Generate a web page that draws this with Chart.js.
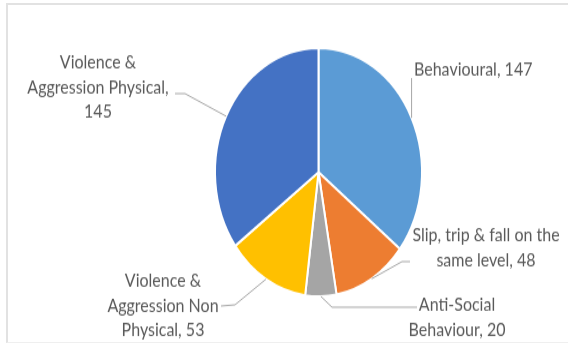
<!DOCTYPE html>
<html>
<head>
<meta charset="utf-8">
<script src="https://cdn.jsdelivr.net/npm/chart.js@4.4.0/dist/chart.umd.min.js"></script>
<style>
    html, body { margin: 0; padding: 0; background: #fff; overflow: hidden; }
    body { width: 568px; height: 344px; position: relative; }
    #frame {
        position: absolute; left: 6px; top: 3px; width: 620px; height: 337px;
        border-top: 2px solid #e2e2e2; border-left: 2px solid #e2e2e2; border-bottom: 1px solid #efefef;
    }
    #wrap {
        position: absolute; left: 0; top: 0; width: 568px; height: 287px;
        transform: scaleY(1.2); transform-origin: 0 0;
    }
</style>
</head>
<body>
<div id="frame"></div>
<div id="wrap"><canvas id="pie" width="568" height="287"></canvas></div>
<script>
// Incident categories, clockwise from 12 o'clock
const categories = [
    'Behavioural',
    'Slip, trip & fall on the same level',
    'Anti-Social Behaviour',
    'Violence & Aggression Non Physical',
    'Violence & Aggression Physical'
];
const counts = [147, 48, 20, 53, 145];
const sliceColors = ['#5B9BD5', '#ED7D31', '#A5A5A5', '#FFC000', '#4472C4'];

// label placement (unscaled canvas px): words per line, text anchor, leader elbow/end
const labelLayout = [
    { words: [2], x: 414, y: 58, align: 'left', path: [[null, 65]] },
    { words: [6, 3], x: 486, y: 196, align: 'center', path: [[402, 218], [410, 218]] },
    { words: [1, 2], x: 457, y: 254, align: 'center', path: [[332, 256], [417, 256]] },
    { words: [2, 2, 2], x: 163, y: 234, align: 'center', path: [[235, 254], [221, 255]] },
    { words: [2, 2, 1], x: 98, y: 52, align: 'center', path: [[185, 78], [175, 78]] }
];
const lineHeight = 20.5;

const calloutPlugin = {
    id: 'callouts',
    afterDatasetsDraw(chart) {
        const ctx = chart.ctx;
        const meta = chart.getDatasetMeta(0);
        ctx.save();
        ctx.font = '16px Lato';
        ctx.fillStyle = '#595959';
        ctx.strokeStyle = '#a6a6a6';
        ctx.lineWidth = 1;
        meta.data.forEach((arc, i) => {
            const p = arc.getProps(['x', 'y', 'startAngle', 'endAngle', 'outerRadius'], true);
            const mid = (p.startAngle + p.endAngle) / 2;
            const sx = p.x + Math.cos(mid) * p.outerRadius;
            const sy = p.y + Math.sin(mid) * p.outerRadius;
            const lay = labelLayout[i];

            ctx.beginPath();
            ctx.moveTo(sx, sy);
            lay.path.forEach(pt => ctx.lineTo(pt[0] === null ? sx : pt[0], pt[1]));
            ctx.stroke();

            const words = (categories[i] + ', ' + counts[i]).split(' ');
            let k = 0;
            ctx.textAlign = lay.align;
            ctx.textBaseline = 'middle';
            lay.words.forEach((n, li) => {
                const line = words.slice(k, k + n).join(' ');
                k += n;
                ctx.fillText(line, lay.x, lay.y + li * lineHeight);
            });
        });
        ctx.restore();
    }
};

new Chart(document.getElementById('pie'), {
    type: 'pie',
    data: {
        labels: categories,
        datasets: [{
            data: counts,
            backgroundColor: sliceColors,
            borderColor: '#ffffff',
            borderWidth: 2
        }]
    },
    options: {
        responsive: false,
        devicePixelRatio: 1,
        animation: false,
        radius: 103.5,
        layout: { padding: { left: 169, right: 100, top: 0, bottom: 0 } },
        plugins: {
            legend: { display: false },
            tooltip: { enabled: false }
        }
    },
    plugins: [calloutPlugin]
});
</script>
</body>
</html>
